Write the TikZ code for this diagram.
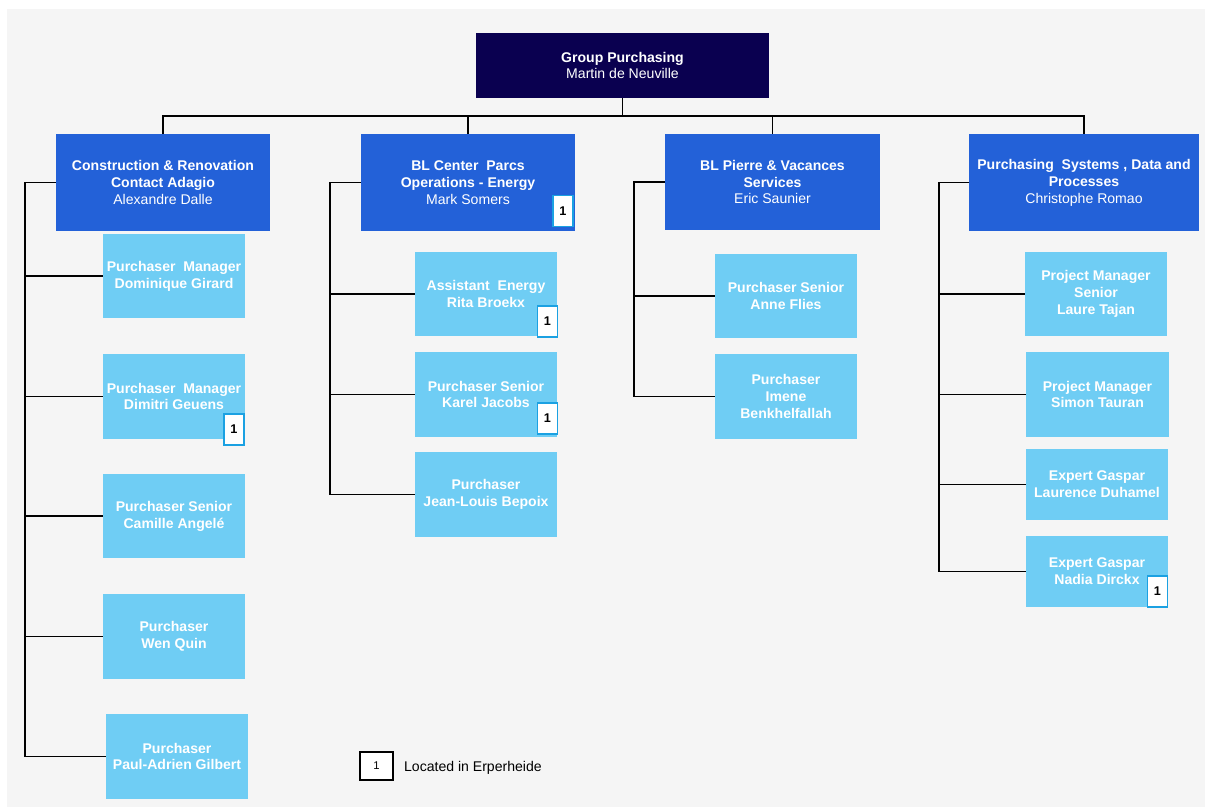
\documentclass[tikz,border=0pt]{standalone}
\usepackage{fontspec}
\setmainfont{Liberation Sans}
\usetikzlibrary{positioning}
\definecolor{navy}{HTML}{0A0050}
\definecolor{unitblue}{HTML}{2361D8}
\definecolor{memberblue}{HTML}{6FCDF4}
\definecolor{badgeblue}{HTML}{1BA1E2}
\definecolor{paper}{HTML}{F5F5F5}

\begin{document}
\begin{tikzpicture}[
		x=0.025cm, y=-0.025cm,
		every node/.style={rectangle, inner sep=1pt, align=center, font=\fontsize{10}{12}\selectfont},
		head/.style={fill=navy, text=white, minimum width=7.3cm, minimum height=1.625cm},
		unit/.style={fill=unitblue, text=white, minimum width=5.35cm, minimum height=2.4cm},
		member/.style={fill=memberblue, text=white, minimum width=3.55cm, minimum height=2.1cm, font=\fontsize{10}{12}\selectfont\bfseries},
		badge/.style={draw=badgeblue, line width=1.2pt, fill=white, minimum width=0.5cm, minimum height=0.78cm, inner sep=0pt, font=\fontsize{9}{9}\selectfont\bfseries},
		link/.style={draw=black, line width=0.9pt}
	]
  \useasboundingbox (0,0) rectangle (1205,807);
  \fill[paper] (7,9) rectangle (1205,807);

  \node (top) [head] at (622.5,65.5) {\textbf{Group Purchasing}\\Martin de Neuville};

  \node (unitA) [unit] at (163,182.5) {\textbf{Construction \& Renovation}\\\textbf{Contact Adagio}\\Alexandre Dalle};
  \node (unitB) [unit] at (468,182.5) {\textbf{BL Center~ Parcs}\\\textbf{Operations - Energy}\\Mark Somers};
  \node (unitC) [unit] at (772.5,182) {\textbf{BL Pierre \& Vacances}\\\textbf{Services}\\Eric Saunier};
  \node (unitD) [unit, minimum width=5.725cm] at (1084,182.5) {\textbf{Purchasing~ Systems , Data and}\\\textbf{Processes}\\Christophe Romao};

  \node (a1) [member] at (174,276) {Purchaser~ Manager\\Dominique Girard};
  \node (a2) [member] at (174,396.5) {Purchaser~ Manager\\Dimitri Geuens};
  \node (a3) [member] at (174,516) {Purchaser Senior\\Camille Angelé};
  \node (a4) [member] at (174,636.5) {Purchaser\\Wen Quin};
  \node (a5) [member] at (177,756.5) {Purchaser\\Paul-Adrien Gilbert};

  \node (b1) [member] at (486,294) {Assistant~ Energy\\Rita Broekx};
  \node (b2) [member] at (486,394.5) {Purchaser Senior\\Karel Jacobs};
  \node (b3) [member] at (486,494.5) {Purchaser\\Jean-Louis Bepoix};

  \node (c1) [member] at (786,296) {Purchaser Senior\\Anne Flies};
  \node (c2) [member] at (786,396.5) {Purchaser\\Imene\\Benkhelfallah};

  \node (d1) [member] at (1096,294) {Project Manager\\Senior\\Laure Tajan};
  \node (d2) [member] at (1097.5,394.5) {Project Manager\\Simon Tauran};
  \node (d3) [member, minimum height=1.78cm] at (1097,484.5) {Expert Gaspar\\Laurence Duhamel};
  \node (d4) [member, minimum height=1.78cm] at (1097,571.5) {Expert Gaspar\\Nadia Dirckx};

  % located in Erperheide
  \node (unitB_1) [badge] at (563,211) {1};
  \node (a2_1) [badge] at (234,429.5) {1};
  \node (b1_1) [badge] at (547.5,321.5) {1};
  \node (b2_1) [badge] at (547.5,418.5) {1};
  \node (d4_1) [badge] at (1157.5,591.5) {1};

  \node (key) [draw=black, line width=0.9pt, fill=white, minimum width=0.825cm, minimum height=0.7cm, inner sep=0pt, font=\fontsize{8}{8}\selectfont] at (376.5,766) {1};
  \node (key_text) [right=0.22cm of key, yshift=-0.05cm] {Located in Erperheide};

  \coordinate (bus) at (622.5,116);
  \coordinate (spineA) at (25,0);
  \coordinate (spineB) at (330,0);
  \coordinate (spineC) at (634,0);
  \coordinate (spineD) at (939,0);

  \draw[link] (top.south) -- (bus);
  \draw[link] (unitA.north) |- (bus) -| (unitD.north);
  \draw[link] (unitB.north) -- (unitB.north |- bus);
  \draw[link] (unitC.north) -- (unitC.north |- bus);

  \draw[link] (unitA.west) -| (spineA |- a5.west) -- (a5.west);
  \draw[link] (unitB.west) -| (spineB |- b3.west) -- (b3.west);
  \draw[link] (unitC.west) -| (spineC |- c2.west) -- (c2.west);
  \draw[link] (unitD.west) -| (spineD |- d4.west) -- (d4.west);
  \foreach \m/\s in {a1/A, a2/A, a3/A, a4/A, b1/B, b2/B, c1/C, d1/D, d2/D, d3/D}
    \draw[link] (\m.west) -- (spine\s |- \m.west);
\end{tikzpicture}
\end{document}
